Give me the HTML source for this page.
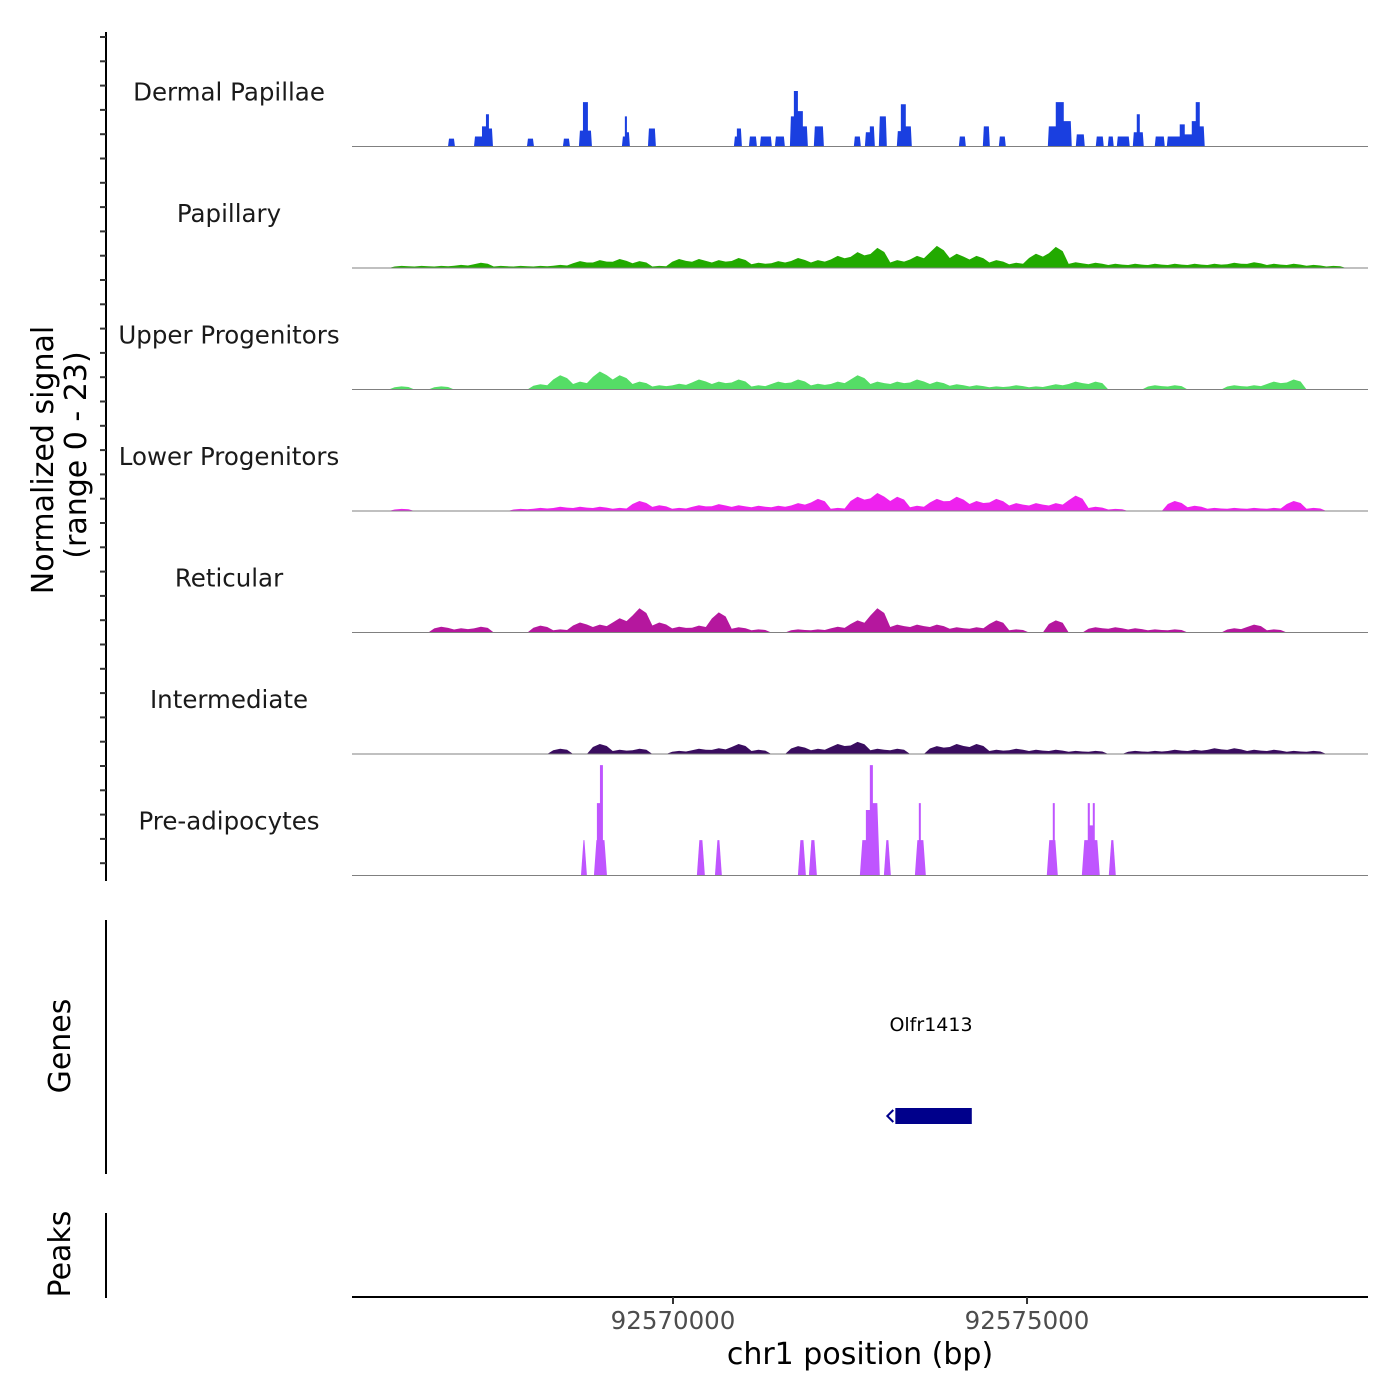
<!DOCTYPE html>
<html><head><meta charset="utf-8">
<style>
html,body{margin:0;padding:0;background:#fff;}
svg{display:block;font-family:"DejaVu Sans","Liberation Sans",sans-serif;}
</style></head>
<body>
<svg id="chart" width="1400" height="1400" viewBox="0 0 1400 1400" xmlns="http://www.w3.org/2000/svg">
  <g id="left-axis"></g>
  <text transform="translate(53,460) rotate(-90)" text-anchor="middle" font-size="30" fill="#000">Normalized signal</text>
  <text transform="translate(86,455) rotate(-90)" text-anchor="middle" font-size="30" fill="#000">(range 0 - 23)</text>
  <g id="tracks"></g>
  <line x1="106" y1="920" x2="106" y2="1174" stroke="#000" stroke-width="2"/>
  <text transform="translate(70,1046) rotate(-90)" text-anchor="middle" font-size="30" fill="#000">Genes</text>
  <text x="931" y="1031" text-anchor="middle" font-size="19" fill="#000">Olfr1413</text>
  <g id="gene"></g>
  <line x1="106" y1="1213" x2="106" y2="1298" stroke="#000" stroke-width="2"/>
  <text transform="translate(70,1254) rotate(-90)" text-anchor="middle" font-size="30" fill="#000">Peaks</text>
  <g id="xaxis"></g>
  <text x="860" y="1364" text-anchor="middle" font-size="30" fill="#000">chr1 position (bp)</text>
</svg>
<script>
const regionStart = 92565466;
const regionEnd = 92579816;
const binSize = 280;
const yMax = 23;
const xTicks = [92570000, 92575000];
const xTickLabels = ["92570000", "92575000"];
const geneStart = 92573140;
const geneEnd = 92574220;

const trackNames = ["Dermal Papillae","Papillary","Upper Progenitors","Lower Progenitors","Reticular","Intermediate","Pre-adipocytes"];
const trackColors = ["#1a3fe0","#22aa00","#55dd66","#ee22ee","#b5179e","#3a0d5f","#bf55ff"];

// Dermal Papillae segments (offset from regionStart, bp)
const dpStarts = [1356,1723,1836,1892,1934,2471,2979,3205,3262,3332,3812,3854,3883,4180,5394,5436,5606,5761,5973,6185,6241,6298,6368,6523,7088,7244,7314,7441,7695,7752,7822,8571,8910,9136,9828,9940,10053,10223,10505,10674,10802,11028,11084,11127,11338,11508,11691,11762,11861,11917,11974];
const dpEnds   = [1454,1836,1892,1934,1991,2570,3078,3262,3332,3389,3854,3883,3925,4292,5436,5507,5719,5930,6114,6241,6298,6368,6439,6665,7187,7314,7385,7554,7752,7822,7907,8670,9009,9234,9940,10053,10166,10350,10618,10759,10985,11084,11127,11183,11480,11691,11762,11861,11917,11974,12044];
const dpValues = [1.5,1.9,3.8,6.1,3.4,1.5,1.5,3,8.4,3,1.9,5.7,2.7,3.4,1.9,3.4,1.9,1.9,1.9,5.7,10.5,6.7,3.8,3.8,1.9,2.7,3.8,5.7,2.9,8,3.8,1.9,3.8,1.9,3.8,8.4,4.8,2.3,1.9,1.9,1.9,2.7,6.1,2.7,1.9,1.9,4.2,2.3,4.8,8.4,3.8];

// Binned tracks (bin = 280 bp), values in signal units
const papillaryValues = [0,0,0.4,0.4,0.4,0.6,1,0.4,0.4,0.4,0.6,1.3,1.5,1.7,1.3,0.4,1.7,1.7,1.5,1.9,1,1.3,1.9,1.5,2.3,3,3.8,1.5,2.3,4.2,2.7,2.3,1.5,1,2.7,4,1.1,1,0.8,0.8,0.8,0.8,0.8,0.8,1,1.1,0.8,0.8,0.6,0.4,0];
const upperValues = [0,0,0.6,0,0.6,0,0,0,0,1,2.7,1.5,3.4,2.7,1.5,0.8,1.1,1.9,1.5,1.9,0.8,1.5,1.9,1.1,1.5,2.7,1.5,1.5,1.9,1.5,1,0.8,0.6,0.8,0.6,1,1.5,1.5,0,0,0.8,0.8,0,0,0.8,0.8,1.5,1.9,0,0,0];
const lowerValues = [0,0,0.4,0,0,0,0,0,0.4,0.6,0.8,0.8,0.8,0.6,1.9,1.1,0.6,1.1,1.3,1.1,1,1,1.5,2.3,0.6,2.7,3.4,2.7,1,2.3,2.7,1.9,2.3,1.5,1.5,1.5,2.9,0.8,0.4,0,0,1.9,1,0.6,0.6,0.6,0.6,1.9,0.6,0,0];
const reticularValues = [0,0,0,0,1.1,0.8,1.1,0,0,1.3,0.6,1.9,1.5,2.7,4.6,1.9,1.1,1.3,3.8,1,0.6,0,0.6,0.6,1.1,2.3,4.6,1.5,1.5,1.5,1,1,2.3,0.6,0,2.3,0,1,1,0.8,0.6,0.6,0,0,0.8,1.5,0.6,0,0,0,0];
const intermediateValues = [0,0,0,0,0,0,0,0,0,0,1,0,1.9,0.8,1,0,0.6,1,1.1,1.9,0.8,0,1.5,1,1.9,2.3,1,1,0,1.5,1.9,1.9,0.8,1,0.8,0.8,0.6,0.6,0,0.6,0.6,0.8,0.8,1.1,1.1,0.8,0.8,0.6,0.6,0,0];

// Pre-adipocytes segments
const paStarts = [3234,3417,3459,3502,3544,4871,5126,6298,6453,7173,7258,7314,7357,7512,7950,8006,8034,9813,9898,9926,10308,10392,10421,10463,10491,10689];
const paEnds   = [3318,3459,3502,3544,3601,4984,5224,6411,6566,7258,7314,7357,7455,7611,8006,8034,8105,9898,9926,9969,10392,10421,10463,10491,10562,10788];
const paValues = [6.7,6.7,13.7,20.9,6.7,6.7,6.7,6.7,6.7,6.7,12.4,20.9,13.7,6.7,6.7,13.7,6.7,6.7,13.7,6.7,6.7,13.7,9.5,13.7,6.7,6.7];

const NS = "http://www.w3.org/2000/svg";
const X0 = 352, X1 = 1368;
function xScale(bp){ return X0 + (bp - regionStart) * (X1 - X0) / (regionEnd - regionStart); }
const trackTop = 25, trackH = 121.5;
function baseline(i){ return trackTop + (i + 1) * trackH; }
function yScale(v, i){ return baseline(i) - v / yMax * trackH; }
function mk(tag, attrs, parent){ const e = document.createElementNS(NS, tag); for (const k in attrs) e.setAttribute(k, attrs[k]); parent.appendChild(e); return e; }

// left axis
const la = document.getElementById("left-axis");
const axl = mk("line", {x1:106,y1:32,x2:106,y2:881,stroke:"#000","stroke-width":2}, la);


for (let k = 0; k < 35; k++) {
  const y = 37 + k * 24.3;
  const t = mk("line", {x1:100,y1:y,x2:106,y2:y,stroke:"#333","stroke-width":2}, la);
  
  
}

const tracksG = document.getElementById("tracks");
const segData = {0:[dpStarts,dpEnds,dpValues], 6:[paStarts,paEnds,paValues]};
const binData = {1:papillaryValues, 2:upperValues, 3:lowerValues, 4:reticularValues, 5:intermediateValues};

trackNames.forEach((name, i) => {
  const g = mk("g", {}, tracksG);
  
  
  const lbl = mk("text", {x:229, y:baseline(i) - 46, "text-anchor":"middle", "font-size":24.5, fill:"#1a1a1a"}, g);
  lbl.textContent = name;
  
  
  const b = baseline(i);
  if (segData[i]) {
    const [s, e, v] = segData[i];
    const slant = i === 6 ? 2.5 : 1;
    let k = 0;
    while (k < s.length) {
      let j = k;
      while (j + 1 < s.length && s[j + 1] === e[j]) j++;
      let pts = `${xScale(regionStart + s[k])},${b}`;
      for (let m = k; m <= j; m++) {
        const xa = xScale(regionStart + s[m]), xb = xScale(regionStart + e[m]);
        const yt = yScale(v[m], i);
        const xa2 = m === k ? xa + slant : xa;
        const xb2 = m === j ? xb - slant : xb;
        pts += ` ${xa2},${yt} ${xb2},${yt}`;
      }
      pts += ` ${xScale(regionStart + e[j])},${b}`;
      const p = mk("polygon", {points:pts, fill:trackColors[i]}, g);
      
      
      k = j + 1;
    }
  } else {
    const vals = binData[i];
    let pts = `${xScale(regionStart)},${b}`;
    vals.forEach((v, k) => {
      const xa = xScale(regionStart + k * binSize), xb = xScale(regionStart + (k + 1) * binSize);
      const xm = (xa + xb) / 2;
      const y = yScale(v, i);
      pts += ` ${xa + 3},${v > 0 ? yScale(v * 0.7, i) : b} ${xm},${y} ${xb - 3},${v > 0 ? yScale(v * 0.8, i) : b}`;
    });
    pts += ` ${xScale(regionStart + vals.length * binSize)},${b}`;
    const p = mk("polygon", {points:pts, fill:trackColors[i]}, g);
    
    
  }
  const bl = mk("line", {x1:X0, y1:b, x2:X1, y2:b, stroke:"#808080", "stroke-width":1}, g);
  
  
});

// gene
const gg = document.getElementById("gene");
const gr = mk("rect", {x:xScale(geneStart), y:1108, width:xScale(geneEnd)-xScale(geneStart), height:16, fill:"#00008b"}, gg);


const ga = mk("path", {d:`M${xScale(geneStart)-2},1110 l-6,6 l6,6`, stroke:"#00008b", "stroke-width":2, fill:"none"}, gg);



// x axis
const xa = document.getElementById("xaxis");
const xl = mk("line", {x1:X0, y1:1297, x2:X1, y2:1297, stroke:"#000", "stroke-width":2}, xa);


xTicks.forEach((t, k) => {
  const x = xScale(t);
  const tk = mk("line", {x1:x, y1:1297, x2:x, y2:1304, stroke:"#333", "stroke-width":2}, xa);
  
  
  const tl = mk("text", {x:x, y:1329, "text-anchor":"middle", "font-size":24.5, fill:"#4d4d4d"}, xa);
  tl.textContent = xTickLabels[k];
  
  
});
</script>
</body></html>
